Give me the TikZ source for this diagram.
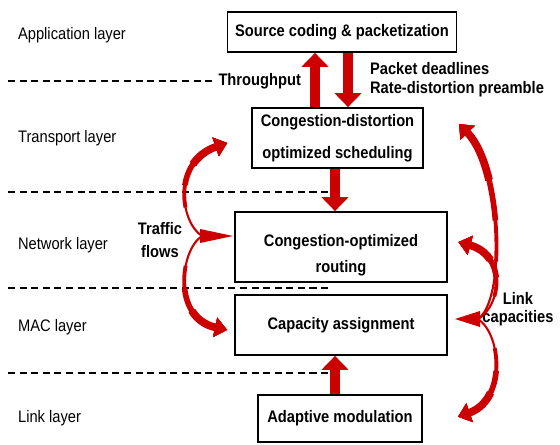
\documentclass[tikz,border=0pt]{standalone}
\usepackage{fontspec}
\usepackage{tikz}
\usepackage{xcolor}
\usetikzlibrary{arrows.meta}
\setmainfont{Liberation Sans}
\newfontfamily\narrowsf[FakeStretch=0.88]{Liberation Sans}
\definecolor{flowred}{RGB}{204,0,0}
\tikzstyle{layerbox}   = [rectangle, draw=black, line width=1pt, fill=white, align=center,
                          font=\narrowsf\fontsize{9.5}{11}\selectfont\bfseries, inner sep=2pt]
\tikzstyle{layername}  = [anchor=west, font=\narrowsf\fontsize{9.5}{11}\selectfont]
\tikzstyle{note}       = [align=center, font=\narrowsf\fontsize{9.5}{11}\selectfont\bfseries]
\tikzstyle{divider}    = [dash pattern=on 4pt off 2.6pt, line width=0.8pt]
\tikzstyle{blockarrow} = [-{Triangle[width=15pt,length=8pt]}, line width=5.5pt, flowred]
\tikzstyle{bendarrow}  = [-{Triangle[width=11pt,length=7pt]}, flowred]
% tapered curve: #1 = length of the curve in pt, #2 = the path
\newcommand{\taperpath}[2]{%
  \foreach \w/\f in {1.2/0, 2.2/0.3, 3.2/0.5, 4.4/0.7}{%
    \pgfmathsetmacro{\gap}{\f*#1}
    \draw[bendarrow, line width=\w pt, dash pattern=on 0pt off \gap pt on 400pt] #2;}}

\begin{document}
\begin{tikzpicture}[x=0.02cm, y=-0.02cm, every node/.style={inner sep=1pt}]
    \useasboundingbox (0,0) rectangle (560,445);

    \node (app) [layername] at (16,35) {Application layer};
    \node (trans) [layername] at (16,138) {Transport layer};
    \node (net) [layername] at (16,245) {Network layer};
    \node (mac) [layername] at (16,327) {MAC layer};
    \node (link) [layername] at (16,418) {Link layer};

    \node (thr) [note, anchor=east] at (303,81) {Throughput};
    \node (dead) [note, anchor=west, align=left] at (368,80) {Packet deadlines\\Rate-distortion preamble};
    \node (traffic) [note] at (160,240) {Traffic\\[2pt]flows};
    \node (linkcap) [note] at (518,309) {Link\\[-1pt]capacities};

    \draw[divider] (8,81) -- (thr.west);
    \draw[divider] (8,192) -- (330,192);
    \draw[divider] (8,288) -- (330,288);
    \draw[divider] (8,373) -- (330,373);

    \node (src) [layerbox, minimum width=4.58cm, minimum height=0.8cm] at (342,32) {Source coding \& packetization};
    \node (sched) [layerbox, minimum width=3.42cm, minimum height=1.2cm] at (337.5,138) {Congestion-distortion\\[7pt]optimized scheduling};
    \node (route) [layerbox, minimum width=4.24cm, minimum height=1.4cm] at (341,247) {\rule{0pt}{16pt}Congestion-optimized\\[4pt]routing};
    \node (cap) [layerbox, minimum width=4.24cm, minimum height=1.2cm] at (341,325) {Capacity assignment};
    \node (adapt) [layerbox, minimum width=3.28cm, minimum height=0.94cm] at (340,418.5) {Adaptive modulation};

    \coordinate (thrx) at (315,0);
    \coordinate (deadx) at (348,0);
    \coordinate (midx) at (335,0);
    \coordinate (flowhub) at (202,236);
    \coordinate (caphub) at (478,319);

    \draw[blockarrow] (sched.north -| thrx) -- (src.south -| thrx);
    \draw[blockarrow] (src.south -| deadx) -- (sched.north -| deadx);
    \draw[blockarrow] (sched.south -| midx) -- (route.north -| midx);
    \draw[blockarrow] (adapt.north -| midx) -- (cap.south -| midx);

    \taperpath{64}{(flowhub) .. controls (180,222) and (172,162) .. ([xshift=-13.6pt,yshift=-2.8pt]sched.west)}
    \taperpath{66}{(flowhub) .. controls (180,250) and (172,318) .. ([xshift=-4pt,yshift=-2.8pt]cap.west)}
    \fill[flowred] (flowhub) ++(-2,-7) -- ++(33,7) -- ++(-33,7) -- cycle;

    \taperpath{54}{(caphub) .. controls (502,305) and (506,255) .. ([xshift=6pt,yshift=2.8pt]route.east)}
    \taperpath{117}{(caphub) .. controls (506,300) and (502,168) .. ([xshift=20pt,yshift=-9.6pt]sched.north east)}
    \taperpath{65}{(caphub) .. controls (502,335) and (506,400) .. ([xshift=20pt,yshift=1pt]adapt.east)}
    \fill[flowred] (caphub) ++(2,-8) -- ++(-25,8) -- ++(25,8) -- cycle;
\end{tikzpicture}
\end{document}
